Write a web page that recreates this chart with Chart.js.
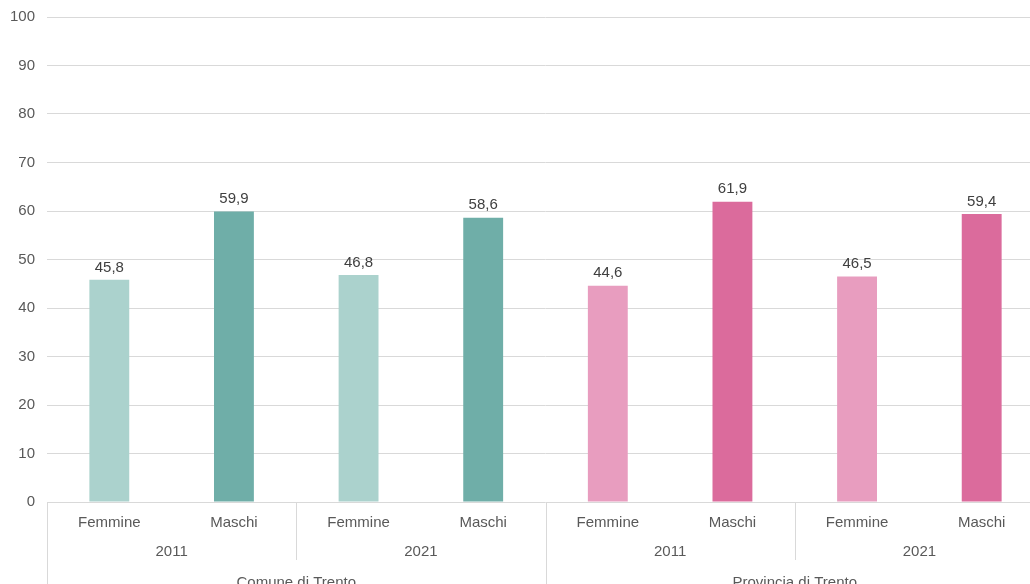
<!DOCTYPE html>
<html>
<head>
<meta charset="utf-8">
<script src="https://cdn.jsdelivr.net/npm/chart.js@4.4.1/dist/chart.umd.min.js"></script>
<style>
  html, body { margin: 0; padding: 0; background: #fff; overflow: hidden; }
  #wrap { position: relative; top: -4px; width: 1044px; height: 604px; }
</style>
</head>
<body>
<div id="wrap"><canvas id="chart"></canvas></div>
<script>
// Dati: tre livelli di categorie
const sessi = ['Femmine', 'Maschi', 'Femmine', 'Maschi', 'Femmine', 'Maschi', 'Femmine', 'Maschi'];
const anni = ['2011', '2021', '2011', '2021'];
const territori = ['Comune di Trento', 'Provincia di Trento'];
const valori = [45.8, 59.9, 46.8, 58.6, 44.6, 61.9, 46.5, 59.4];
const yTicks = [0, 10, 20, 30, 40, 50, 60, 70, 80, 90, 100];

// Palette
const COLORS = {
  tealLight: '#abd2cd',
  teal: '#6faea8',
  pinkLight: '#e89dbf',
  pink: '#db6b9c',
  grid: '#d9d9d9',
  text: '#595959',
  label: '#404040'
};
const barColors = [COLORS.tealLight, COLORS.teal, COLORS.tealLight, COLORS.teal,
                   COLORS.pinkLight, COLORS.pink, COLORS.pinkLight, COLORS.pink];

const FONT = "'Liberation Sans', Arial, sans-serif";

// Etichette valori sopra le barre (virgola decimale)
const valueLabels = {
  id: 'valueLabels',
  afterDatasetsDraw(chart) {
    const ctx = chart.ctx;
    const meta = chart.getDatasetMeta(0);
    ctx.save();
    ctx.font = '15px ' + FONT;
    ctx.fillStyle = COLORS.label;
    ctx.textAlign = 'center';
    ctx.textBaseline = 'bottom';
    meta.data.forEach((bar, i) => {
      ctx.fillText(valori[i].toFixed(1).replace('.', ','), bar.x, bar.y - 5);
    });
    ctx.restore();
  }
};

// Asse categorie a più livelli (anno, territorio) con separatori
const multiLevelAxis = {
  id: 'multiLevelAxis',
  afterDraw(chart) {
    const ctx = chart.ctx;
    const x = chart.scales.x;
    const area = chart.chartArea;
    const step = x.getPixelForValue(1) - x.getPixelForValue(0);
    const edge = i => x.getPixelForValue(i) - step / 2;
    const bottom = chart.height;
    ctx.save();
    ctx.strokeStyle = COLORS.grid;
    ctx.lineWidth = 1;
    // linee verticali
    for (let i = 0; i <= sessi.length; i += 2) {
      const px = Math.round(edge(i)) + 0.5;
      const full = i % 4 === 0;
      ctx.beginPath();
      ctx.moveTo(px, area.bottom);
      ctx.lineTo(px, full ? bottom : area.bottom + 58);
      ctx.stroke();
    }
    ctx.font = '15px ' + FONT;
    ctx.fillStyle = COLORS.text;
    ctx.textAlign = 'center';
    ctx.textBaseline = 'middle';
    anni.forEach((a, j) => {
      const cx = (edge(j * 2) + edge(j * 2 + 2)) / 2;
      ctx.fillText(a, cx, area.bottom + 50);
    });
    territori.forEach((t, j) => {
      const cx = (edge(j * 4) + edge(j * 4 + 4)) / 2;
      ctx.fillText(t, cx, area.bottom + 81);
    });
    ctx.restore();
  }
};

new Chart(document.getElementById('chart'), {
  type: 'bar',
  data: {
    labels: sessi,
    datasets: [{
      data: valori,
      backgroundColor: barColors,
      borderWidth: 0,
      categoryPercentage: 1,
      barPercentage: 0.32
    }]
  },
  options: {
    responsive: true,
    maintainAspectRatio: false,
    animation: false,
    layout: { padding: { top: 13, right: 0, left: 0, bottom: 0 } },
    plugins: {
      legend: { display: false },
      tooltip: { enabled: false }
    },
    scales: {
      x: {
        grid: { display: false, drawTicks: false },
        border: { display: false },
        ticks: { color: COLORS.text, font: { family: FONT, size: 15 }, padding: 12, maxRotation: 0, autoSkip: false },
        afterFit(scale) { scale.height = 98; }
      },
      y: {
        min: 0,
        max: 100,
        afterBuildTicks(scale) { scale.ticks = yTicks.map(v => ({ value: v })); },
        grid: { color: COLORS.grid, drawTicks: false },
        border: { display: false },
        ticks: { color: COLORS.text, font: { family: FONT, size: 15 }, padding: 12 },
        afterFit(scale) { scale.width = 47; }
      }
    }
  },
  plugins: [valueLabels, multiLevelAxis]
});
</script>
</body>
</html>
